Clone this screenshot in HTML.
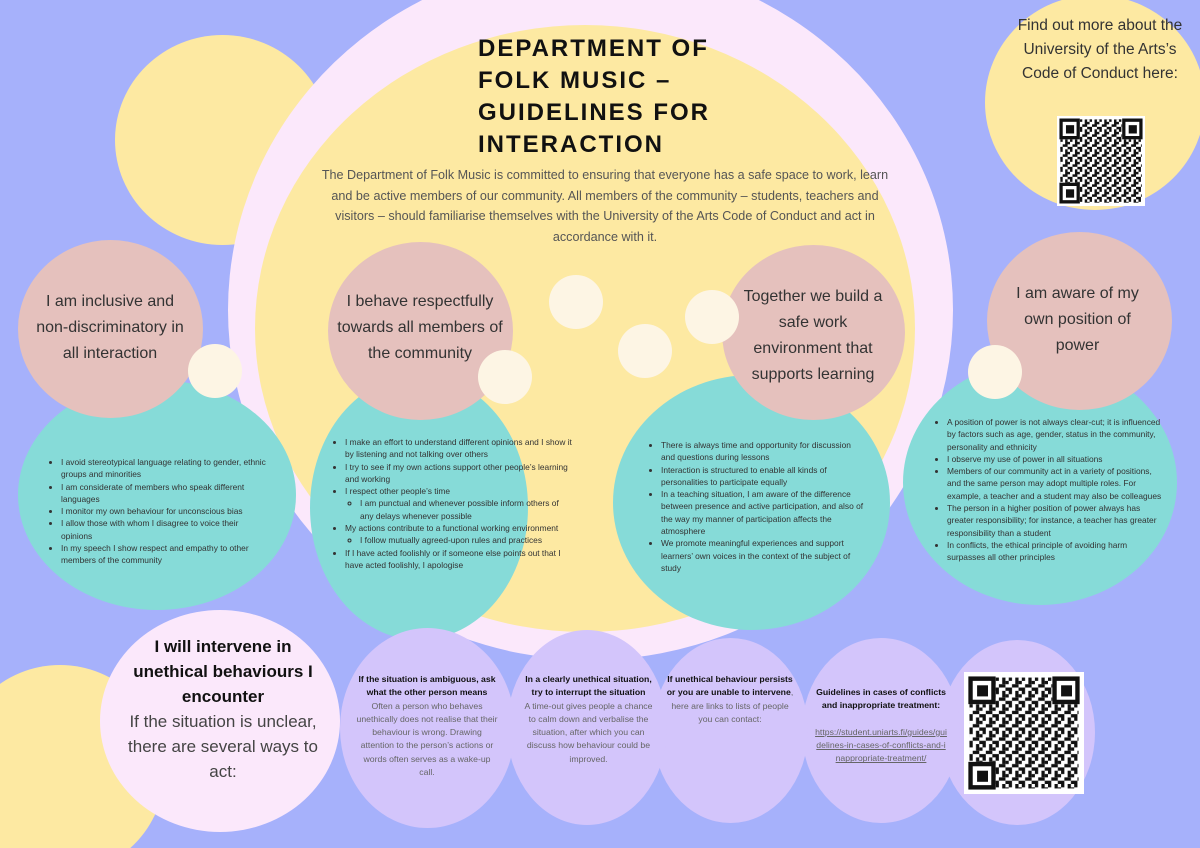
<!DOCTYPE html>
<html><head><meta charset="utf-8"><style>
*{margin:0;padding:0;box-sizing:border-box}
html,body{width:1200px;height:848px;overflow:hidden}
body{background:#a6b1fb;position:relative;font-family:"Liberation Sans",sans-serif;color:#333}
.c{position:absolute;border-radius:50%}
.t{position:absolute;text-align:center}
ul{padding-left:13px}
ul ul{list-style:circle;padding-left:15px}
.b{font-size:8.4px;line-height:12.3px;color:#333}
svg.q{position:absolute;background:#fff}
</style></head><body>
<svg width="0" height="0" style="position:absolute"><defs>
<pattern id="p" width="12" height="12" patternUnits="userSpaceOnUse">
<rect x="0" y="0" width="3" height="3" fill="#111"/><rect x="6" y="0" width="3" height="6" fill="#111"/><rect x="3" y="6" width="6" height="3" fill="#111"/><rect x="9" y="9" width="3" height="3" fill="#111"/><rect x="0" y="9" width="3" height="3" fill="#111"/><rect x="9" y="3" width="3" height="3" fill="#111"/>
</pattern>
<g id="qr"><rect width="100" height="100" fill="url(#p)"/>
<rect x="0" y="0" width="24" height="24" fill="#fff"/><rect x="1" y="1" width="21" height="21" fill="none" stroke="#111" stroke-width="4"/><rect x="7" y="7" width="10" height="10" fill="#111"/>
<rect x="76" y="0" width="24" height="24" fill="#fff"/><rect x="78" y="1" width="21" height="21" fill="none" stroke="#111" stroke-width="4"/><rect x="84" y="7" width="10" height="10" fill="#111"/>
<rect x="0" y="76" width="24" height="24" fill="#fff"/><rect x="1" y="78" width="21" height="21" fill="none" stroke="#111" stroke-width="4"/><rect x="7" y="84" width="10" height="10" fill="#111"/></g>
</defs></svg>
<div class="c" style="left:115px;top:35px;width:215px;height:210px;background:#fde9a2"></div>
<div class="c" style="left:228px;top:-40px;width:725px;height:700px;background:#fbe8fb"></div>
<div class="c" style="left:255px;top:25px;width:660px;height:607px;background:#fde9a2"></div>
<div class="c" style="left:985px;top:-5px;width:220px;height:215px;background:#fde9a2"></div>
<div class="c" style="left:-45px;top:665px;width:210px;height:210px;background:#fde9a2"></div>

<div class="t" style="left:478px;top:33px;text-align:left;font-size:24px;line-height:32px;font-weight:bold;letter-spacing:2px;color:#111">DEPARTMENT OF<br>FOLK MUSIC –<br>GUIDELINES FOR<br>INTERACTION</div>
<div class="t" style="left:318px;top:165px;width:574px;font-size:12.6px;line-height:20.5px;color:#555">The Department of Folk Music is committed to ensuring that everyone has a safe space to work, learn and be active members of our community. All members of the community – students, teachers and visitors – should familiarise themselves with the University of the Arts Code of Conduct and act in accordance with it.</div>

<div class="t" style="left:1010px;top:14px;width:180px;font-size:15.5px;line-height:24px;color:#333">Find out more about the University of the Arts’s Code of Conduct here:</div>
<svg class="q" style="left:1057px;top:116px" width="88" height="90" viewBox="-4 -4 108 108" preserveAspectRatio="none"><use href="#qr"/></svg>

<div class="c" style="left:18px;top:380px;width:278px;height:230px;background:#86dbd8"></div>
<div class="c" style="left:310px;top:375px;width:218px;height:265px;background:#86dbd8"></div>
<div class="c" style="left:613px;top:375px;width:277px;height:255px;background:#86dbd8"></div>
<div class="c" style="left:903px;top:360px;width:274px;height:245px;background:#86dbd8"></div>
<div class="c" style="left:18px;top:240px;width:185px;height:178px;background:#e5c1bd"></div>
<div class="c" style="left:328px;top:242px;width:185px;height:178px;background:#e5c1bd"></div>
<div class="c" style="left:722px;top:245px;width:183px;height:175px;background:#e5c1bd"></div>
<div class="c" style="left:987px;top:232px;width:185px;height:178px;background:#e5c1bd"></div>
<div class="c" style="left:188px;top:344px;width:54px;height:54px;background:#fdf5e4"></div>
<div class="c" style="left:478px;top:350px;width:54px;height:54px;background:#fdf5e4"></div>
<div class="c" style="left:549px;top:275px;width:54px;height:54px;background:#fdf5e4"></div>
<div class="c" style="left:618px;top:324px;width:54px;height:54px;background:#fdf5e4"></div>
<div class="c" style="left:685px;top:290px;width:54px;height:54px;background:#fdf5e4"></div>
<div class="c" style="left:968px;top:345px;width:54px;height:54px;background:#fdf5e4"></div>

<div class="t" style="left:30px;top:289px;width:160px;font-size:16px;line-height:26px">I am inclusive and non-discriminatory in all interaction</div>
<div class="t" style="left:335px;top:289px;width:170px;font-size:16px;line-height:26px">I behave respectfully towards all members of the community</div>
<div class="t" style="left:737px;top:284px;width:152px;font-size:16px;line-height:26px">Together we build a safe work environment that supports learning</div>
<div class="t" style="left:1005px;top:281px;width:145px;font-size:16px;line-height:26px">I am aware of my own position of power</div>

<div class="t b" style="left:48px;top:456px;width:222px;text-align:left"><ul><li>I avoid stereotypical language relating to gender, ethnic groups and minorities</li><li>I am considerate of members who speak different languages</li><li>I monitor my own behaviour for unconscious bias</li><li>I allow those with whom I disagree to voice their opinions</li><li>In my speech I show respect and empathy to other members of the community</li></ul></div>
<div class="t b" style="left:332px;top:436px;width:240px;text-align:left"><ul><li>I make an effort to understand different opinions and I show it by listening and not talking over others</li><li>I try to see if my own actions support other people’s learning and working</li><li>I respect other people’s time<ul><li>I am punctual and whenever possible inform others of any delays whenever possible</li></ul></li><li>My actions contribute to a functional working environment<ul><li>I follow mutually agreed-upon rules and practices</li></ul></li><li>If I have acted foolishly or if someone else points out that I have acted foolishly, I apologise</li></ul></div>
<div class="t b" style="left:648px;top:439px;width:218px;text-align:left"><ul><li>There is always time and opportunity for discussion and questions during lessons</li><li>Interaction is structured to enable all kinds of personalities to participate equally</li><li>In a teaching situation, I am aware of the difference between presence and active participation, and also of the way my manner of participation affects the atmosphere</li><li>We promote meaningful experiences and support learners’ own voices in the context of the subject of study</li></ul></div>
<div class="t b" style="left:934px;top:416px;width:232px;text-align:left"><ul><li>A position of power is not always clear-cut; it is influenced by factors such as age, gender, status in the community, personality and ethnicity</li><li>I observe my use of power in all situations</li><li>Members of our community act in a variety of positions, and the same person may adopt multiple roles. For example, a teacher and a student may also be colleagues</li><li>The person in a higher position of power always has greater responsibility; for instance, a teacher has greater responsibility than a student</li><li>In conflicts, the ethical principle of avoiding harm surpasses all other principles</li></ul></div>

<div class="c" style="left:940px;top:640px;width:155px;height:185px;background:#d3c5fb"></div>
<div class="c" style="left:802px;top:638px;width:158px;height:185px;background:#d3c5fb"></div>
<div class="c" style="left:653px;top:638px;width:155px;height:185px;background:#d3c5fb"></div>
<div class="c" style="left:507px;top:630px;width:160px;height:195px;background:#d3c5fb"></div>
<div class="c" style="left:340px;top:628px;width:175px;height:200px;background:#d3c5fb"></div>
<div class="c" style="left:100px;top:610px;width:240px;height:222px;background:#fbe8fb"></div>

<div class="t" style="left:120px;top:634px;width:206px;font-size:17px;line-height:25px;color:#111"><b>I will intervene in unethical behaviours I encounter</b><br><span style="color:#444">If the situation is unclear, there are several ways to act:</span></div>
<div class="t" style="left:355px;top:673px;width:144px;font-size:8.7px;line-height:13.3px;color:#666"><b style="color:#111">If the situation is ambiguous, ask what the other person means</b><br>Often a person who behaves unethically does not realise that their behaviour is wrong. Drawing attention to the person’s actions or words often serves as a wake-up call.</div>
<div class="t" style="left:520px;top:673px;width:137px;font-size:8.7px;line-height:13.3px;color:#666"><b style="color:#111">In a clearly unethical situation, try to interrupt the situation</b><br>A time-out gives people a chance to calm down and verbalise the situation, after which you can discuss how behaviour could be improved.</div>
<div class="t" style="left:665px;top:673px;width:130px;font-size:8.7px;line-height:13.3px;color:#666"><b style="color:#111">If unethical behaviour persists or you are unable to intervene</b>, here are links to lists of people you can contact:</div>
<div class="t" style="left:815px;top:686px;width:132px;font-size:8.7px;line-height:13.3px;color:#666;word-break:break-all"><b style="color:#111;word-break:normal">Guidelines in cases of conflicts and inappropriate treatment:</b><br><br><u>https://student.uniarts.fi/guides/guidelines-in-cases-of-conflicts-and-inappropriate-treatment/</u></div>
<svg class="q" style="left:964px;top:672px" width="120" height="122" viewBox="-5 -5 110 110" preserveAspectRatio="none"><use href="#qr"/></svg>
</body></html>
